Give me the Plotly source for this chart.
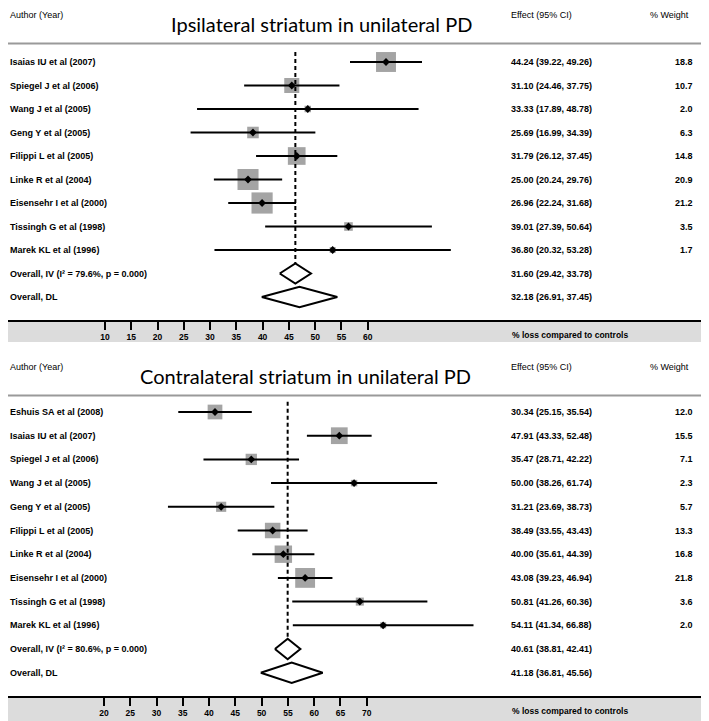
import plotly.graph_objects as go
import math

# ---------------- data ----------------
top_title = "Ipsilateral striatum in unilateral PD"
top_names = ["Isaias IU et al (2007)", "Spiegel J et al (2006)", "Wang J et al (2005)",
             "Geng Y et al (2005)", "Filippi L et al (2005)", "Linke R et al (2004)",
             "Eisensehr I et al (2000)", "Tissingh G et al (1998)", "Marek KL et al (1996)"]
top_est = [44.24, 31.10, 33.33, 25.69, 31.79, 25.00, 26.96, 39.01, 36.80]
top_lo = [39.22, 24.46, 17.89, 16.99, 26.12, 20.24, 22.24, 27.39, 20.32]
top_hi = [49.26, 37.75, 48.78, 34.39, 37.45, 29.76, 31.68, 50.64, 53.28]
top_w = [18.8, 10.7, 2.0, 6.3, 14.8, 20.9, 21.2, 3.5, 1.7]
top_iv = [31.60, 29.42, 33.78]
top_dl = [32.18, 26.91, 37.45]
top_i2 = 79.6
top_ticks = [10, 15, 20, 25, 30, 35, 40, 45, 50, 55, 60]

bot_title = "Contralateral striatum in unilateral PD"
bot_names = ["Eshuis SA et al (2008)", "Isaias IU et al (2007)", "Spiegel J et al (2006)",
             "Wang J et al (2005)", "Geng Y et al (2005)", "Filippi L et al (2005)",
             "Linke R et al (2004)", "Eisensehr I et al (2000)", "Tissingh G et al (1998)",
             "Marek KL et al (1996)"]
bot_est = [30.34, 47.91, 35.47, 50.00, 31.21, 38.49, 40.00, 43.08, 50.81, 54.11]
bot_lo = [25.15, 43.33, 28.71, 38.26, 23.69, 33.55, 35.61, 39.23, 41.26, 41.34]
bot_hi = [35.54, 52.48, 42.22, 61.74, 38.73, 43.43, 44.39, 46.94, 60.36, 66.88]
bot_w = [12.0, 15.5, 7.1, 2.3, 5.7, 13.3, 16.8, 21.8, 3.6, 2.0]
bot_iv = [40.61, 38.81, 42.41]
bot_dl = [41.18, 36.81, 45.56]
bot_i2 = 80.6
bot_ticks = [20, 25, 30, 35, 40, 45, 50, 55, 60, 65, 70]

axis_label = "% loss compared to controls"

# ---------------- layout constants ----------------
# page has an 8px body margin; figure occupies page pixels 8..709 / 8..721
OFF = 8
PW, PH = 709, 721
W, H = PW - OFF, PH - OFF
LAB = dict(family="Liberation Sans, Arial", size=9, color="black")
TITLE_FONT = dict(family="Lato", size=20, color="black")


def pxx(px):  # page x pixel -> paper
    return (px - OFF) / W


def py(px):  # page y pixel -> paper
    return 1 - (px - OFF) / H


def lin_range(v1, p1, v2, p2, pmin=OFF, pmax=PW):
    s = (p2 - p1) / (v2 - v1)
    return [v1 + (pmin - p1) / s, v1 + (pmax - p1) / s]


def row_range(p0, step):
    return [(PH - p0) / step, (OFF - p0) / step]


fig = go.Figure()
annotations = []
shapes = []


def panel(names, est, lo, hi, w, iv, dl, i2, ticks, xa, ya, xt, title,
          y0px, title_x, band_top, band_bot, ksize):
    n = len(names)
    rows = list(range(n))
    r_iv, r_dl = n, n + 1
    hh = 0.43
    # squares
    fig.add_trace(go.Scatter(
        x=est, y=rows, mode="markers", xaxis=xa, yaxis=ya,
        marker=dict(symbol="square", size=[ksize * math.sqrt(v) for v in w],
                    color="#7d7d7d", line=dict(width=0)),
        hoverinfo="skip", showlegend=False))
    # CI lines
    xs, ys = [], []
    for l, h, r in zip(lo, hi, rows):
        xs += [l, h, None]
        ys += [r, r, None]
    fig.add_trace(go.Scatter(x=xs, y=ys, mode="lines", xaxis=xa, yaxis=ya,
                             line=dict(color="black", width=2),
                             hoverinfo="skip", showlegend=False))
    # dashed overall line
    fig.add_trace(go.Scatter(x=[iv[0], iv[0]], y=[-0.43, r_iv + hh], mode="lines",
                             xaxis=xa, yaxis=ya,
                             line=dict(color="black", width=2, dash="4px,3px"),
                             hoverinfo="skip", showlegend=False))
    # point estimates
    fig.add_trace(go.Scatter(x=est, y=rows, mode="markers", xaxis=xa, yaxis=ya,
                             marker=dict(symbol="diamond", size=6, color="black"),
                             hoverinfo="skip", showlegend=False))
    # diamonds
    for ov, r in ((iv, r_iv), (dl, r_dl)):
        fig.add_trace(go.Scatter(
            x=[ov[1], ov[0], ov[2], ov[0], ov[1]],
            y=[r, r - hh, r, r + hh, r], mode="lines", xaxis=xa, yaxis=ya,
            fill="toself", fillcolor="white",
            line=dict(color="black", width=2),
            hoverinfo="skip", showlegend=False))
    # tick axis dummy trace
    fig.add_trace(go.Scatter(x=ticks, y=[None] * len(ticks), xaxis=xt, yaxis=ya,
                             mode="markers", hoverinfo="skip", showlegend=False))
    yref = ya
    lab_rows = names + [f"Overall, IV (I\u00b2 = {i2}%, p = 0.000)", "Overall, DL"]
    eff = [f"{e:.2f} ({l:.2f}, {h:.2f})" for e, l, h in zip(est, lo, hi)]
    eff += [f"{iv[0]:.2f} ({iv[1]:.2f}, {iv[2]:.2f})", f"{dl[0]:.2f} ({dl[1]:.2f}, {dl[2]:.2f})"]
    for r, t in enumerate(lab_rows):
        annotations.append(dict(x=pxx(8), y=r, xref="paper", yref=yref, text=f"<b>{t}</b>",
                                showarrow=False, xanchor="left", yanchor="middle", font=LAB))
    for r, t in enumerate(eff):
        annotations.append(dict(x=pxx(509), y=r, xref="paper", yref=yref, text=f"<b>{t}</b>",
                                showarrow=False, xanchor="left", yanchor="middle", font=LAB))
    for r, v in enumerate(w):
        annotations.append(dict(x=pxx(695), y=r, xref="paper", yref=yref, text=f"<b>{v:.1f}</b>",
                                showarrow=False, xanchor="right", yanchor="middle", font=LAB))
    # headers
    for x, t, anc in ((8, "Author (Year)", "left"), (509, "Effect (95% CI)", "left"),
                      (691, "% Weight", "right")):
        annotations.append(dict(x=pxx(x), y=py(y0px), xref="paper", yref="paper", text=t,
                                showarrow=False, xanchor=anc, yanchor="middle", font=LAB))
    annotations.append(dict(x=pxx(title_x), y=py(y0px + 9), xref="paper", yref="paper",
                            text=title, showarrow=False, xanchor="center", yanchor="middle",
                            font=TITLE_FONT))
    # axis label
    annotations.append(dict(x=pxx(510), y=py(band_top + 14), xref="paper", yref="paper",
                            text=f"<b>{axis_label}</b>", showarrow=False, xanchor="left",
                            yanchor="middle",
                            font=dict(family="Liberation Sans, Arial", size=8.5, color="black")))
    # separator line under header
    shapes.append(dict(type="line", xref="paper", yref="paper", x0=0, x1=1,
                       y0=py(y0px + 28.5), y1=py(y0px + 28.5),
                       line=dict(color="#9a9a9a", width=2), layer="below"))
    # gray band
    shapes.append(dict(type="rect", xref="paper", yref="paper", x0=0, x1=1,
                       y0=max(py(band_bot), 0), y1=py(band_top), fillcolor="#dcdcdc",
                       line=dict(width=0), layer="below"))


panel(top_names, top_est, top_lo, top_hi, top_w, top_iv, top_dl, top_i2, top_ticks,
      "x", "y", "x3", top_title, 15, 321, 321, 342, 4.6)
panel(bot_names, bot_est, bot_lo, bot_hi, bot_w, bot_iv, bot_dl, bot_i2, bot_ticks,
      "x2", "y2", "x4", bot_title, 367, 305, 697, 721, 4.25)

hidden = dict(visible=False, showgrid=False, zeroline=False, fixedrange=True)


def tick_axis(rng, pos, ticks):
    return dict(overlaying="x", anchor="free", position=pos, side="bottom",
                range=rng, tickvals=ticks, ticktext=[str(t) for t in ticks],
                showline=True, linecolor="black", linewidth=2,
                ticks="outside", ticklen=8, tickwidth=1.5, tickcolor="black",
                showgrid=False, zeroline=False,
                tickfont=dict(family="Liberation Sans, Arial", size=8.5, color="black",
                              weight="bold"))


fig.update_layout(
    width=W, height=H, autosize=False,
    margin=dict(l=0, r=0, t=0, b=0),
    paper_bgcolor="white", plot_bgcolor="rgba(0,0,0,0)",
    showlegend=False,
    # data axes calibrated from marker positions in the reference
    xaxis=dict(domain=[0, 1], range=lin_range(39.22, 350, 49.26, 422), anchor="y", **hidden),
    yaxis=dict(domain=[0, 1], range=row_range(62, 23.5), anchor="x", **hidden),
    xaxis2=dict(domain=[0, 1], range=lin_range(30.34, 215, 47.91, 339.3), anchor="y2", **hidden),
    yaxis2=dict(domain=[0, 1], range=row_range(412, 23.7), anchor="x2", **hidden),
    # tick axes as drawn in the reference's grey strips
    xaxis3=tick_axis(lin_range(10, 105, 60, 367.7), py(321), top_ticks),
    xaxis4=tick_axis(lin_range(20, 104, 70, 366.7), py(697), bot_ticks),
    annotations=annotations,
    shapes=shapes,
)

fig.write_html("out.html")
